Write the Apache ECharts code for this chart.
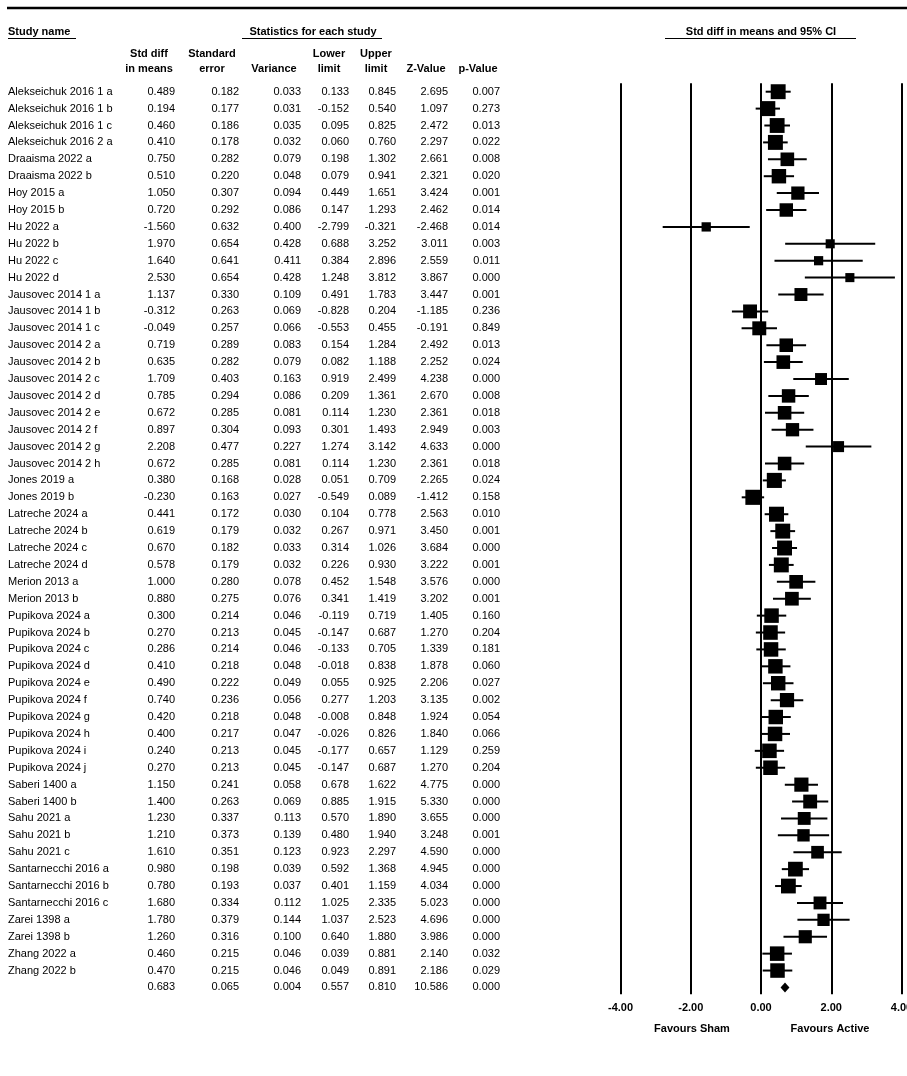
<!DOCTYPE html>
<html>
<head>
<meta charset="utf-8">
<script src="https://cdn.jsdelivr.net/npm/echarts@6/dist/echarts.min.js"></script>
<style>
html,body{margin:0;padding:0;background:#fff;}
#chart{width:907px;height:1076px;}
</style>
</head>
<body>
<div id="chart"></div>
<script>
const studies = [
  "Alekseichuk 2016 1 a","Alekseichuk 2016 1 b","Alekseichuk 2016 1 c","Alekseichuk 2016 2 a",
  "Draaisma 2022 a","Draaisma 2022 b","Hoy 2015 a","Hoy 2015 b",
  "Hu 2022 a","Hu 2022 b","Hu 2022 c","Hu 2022 d",
  "Jausovec 2014 1 a","Jausovec 2014 1 b","Jausovec 2014 1 c","Jausovec 2014 2 a",
  "Jausovec 2014 2 b","Jausovec 2014 2 c","Jausovec 2014 2 d","Jausovec 2014 2 e",
  "Jausovec 2014 2 f","Jausovec 2014 2 g","Jausovec 2014 2 h","Jones 2019 a","Jones 2019 b",
  "Latreche 2024 a","Latreche 2024 b","Latreche 2024 c","Latreche 2024 d",
  "Merion 2013 a","Merion 2013 b",
  "Pupikova 2024 a","Pupikova 2024 b","Pupikova 2024 c","Pupikova 2024 d","Pupikova 2024 e",
  "Pupikova 2024 f","Pupikova 2024 g","Pupikova 2024 h","Pupikova 2024 i","Pupikova 2024 j",
  "Saberi 1400 a","Saberi 1400 b","Sahu 2021 a","Sahu 2021 b","Sahu 2021 c",
  "Santarnecchi 2016 a","Santarnecchi 2016 b","Santarnecchi 2016 c",
  "Zarei 1398 a","Zarei 1398 b","Zhang 2022 a","Zhang 2022 b"
];
const stdDiff = [0.489,0.194,0.460,0.410,0.750,0.510,1.050,0.720,-1.560,1.970,1.640,2.530,
  1.137,-0.312,-0.049,0.719,0.635,1.709,0.785,0.672,0.897,2.208,0.672,0.380,-0.230,
  0.441,0.619,0.670,0.578,1.000,0.880,0.300,0.270,0.286,0.410,0.490,0.740,0.420,0.400,0.240,0.270,
  1.150,1.400,1.230,1.210,1.610,0.980,0.780,1.680,1.780,1.260,0.460,0.470];
const stdErr = [0.182,0.177,0.186,0.178,0.282,0.220,0.307,0.292,0.632,0.654,0.641,0.654,
  0.330,0.263,0.257,0.289,0.282,0.403,0.294,0.285,0.304,0.477,0.285,0.168,0.163,
  0.172,0.179,0.182,0.179,0.280,0.275,0.214,0.213,0.214,0.218,0.222,0.236,0.218,0.217,0.213,0.213,
  0.241,0.263,0.337,0.373,0.351,0.198,0.193,0.334,0.379,0.316,0.215,0.215];
const variance = [0.033,0.031,0.035,0.032,0.079,0.048,0.094,0.086,0.400,0.428,0.411,0.428,
  0.109,0.069,0.066,0.083,0.079,0.163,0.086,0.081,0.093,0.227,0.081,0.028,0.027,
  0.030,0.032,0.033,0.032,0.078,0.076,0.046,0.045,0.046,0.048,0.049,0.056,0.048,0.047,0.045,0.045,
  0.058,0.069,0.113,0.139,0.123,0.039,0.037,0.112,0.144,0.100,0.046,0.046];
const lowerLimit = [0.133,-0.152,0.095,0.060,0.198,0.079,0.449,0.147,-2.799,0.688,0.384,1.248,
  0.491,-0.828,-0.553,0.154,0.082,0.919,0.209,0.114,0.301,1.274,0.114,0.051,-0.549,
  0.104,0.267,0.314,0.226,0.452,0.341,-0.119,-0.147,-0.133,-0.018,0.055,0.277,-0.008,-0.026,-0.177,-0.147,
  0.678,0.885,0.570,0.480,0.923,0.592,0.401,1.025,1.037,0.640,0.039,0.049];
const upperLimit = [0.845,0.540,0.825,0.760,1.302,0.941,1.651,1.293,-0.321,3.252,2.896,3.812,
  1.783,0.204,0.455,1.284,1.188,2.499,1.361,1.230,1.493,3.142,1.230,0.709,0.089,
  0.778,0.971,1.026,0.930,1.548,1.419,0.719,0.687,0.705,0.838,0.925,1.203,0.848,0.826,0.657,0.687,
  1.622,1.915,1.890,1.940,2.297,1.368,1.159,2.335,2.523,1.880,0.881,0.891];
const zValue = [2.695,1.097,2.472,2.297,2.661,2.321,3.424,2.462,-2.468,3.011,2.559,3.867,
  3.447,-1.185,-0.191,2.492,2.252,4.238,2.670,2.361,2.949,4.633,2.361,2.265,-1.412,
  2.563,3.450,3.684,3.222,3.576,3.202,1.405,1.270,1.339,1.878,2.206,3.135,1.924,1.840,1.129,1.270,
  4.775,5.330,3.655,3.248,4.590,4.945,4.034,5.023,4.696,3.986,2.140,2.186];
const pValue = [0.007,0.273,0.013,0.022,0.008,0.020,0.001,0.014,0.014,0.003,0.011,0.000,
  0.001,0.236,0.849,0.013,0.024,0.000,0.008,0.018,0.003,0.000,0.018,0.024,0.158,
  0.010,0.001,0.000,0.001,0.000,0.001,0.160,0.204,0.181,0.060,0.027,0.002,0.054,0.066,0.259,0.204,
  0.000,0.000,0.000,0.001,0.000,0.000,0.000,0.000,0.000,0.000,0.032,0.029];
// summary row: std diff, std err, variance, lower, upper, Z, p
const summaryStats = [0.683,0.065,0.004,0.557,0.810,10.586,0.000];
const xTicks = [-4, -2, 0, 2, 4];

const FONT = '"Liberation Sans", Arial, sans-serif';

// table rows: [rowIndex, name, values...]
const tableRows = studies.map((s, i) => [i, s, stdDiff[i], stdErr[i], variance[i], lowerLimit[i], upperLimit[i], zValue[i], pValue[i]]);
tableRows.push([studies.length, ''].concat(summaryStats));

const studyData = studies.map((s, i) => [stdDiff[i], i, lowerLimit[i], upperLimit[i], variance[i]]);
const summaryData = [[summaryStats[0], studies.length, summaryStats[3], summaryStats[4]]];

const colRight = [175, 239, 301, 349, 396, 448, 500];

const chart = echarts.init(document.getElementById('chart'), null, {renderer: 'canvas'});

const yRange = {min: -0.5, max: 53.4};
const gridTop = 83.25, gridBottom = 81.8;

chart.setOption({
  backgroundColor: '#fff',
  animation: false,
  grid: [
    {left: 620.5, right: 5.5, top: gridTop, bottom: gridBottom, containLabel: false, outerBoundsMode: 'none'},
    {left: 0, right: 0, top: gridTop, bottom: gridBottom, containLabel: false, outerBoundsMode: 'none'}
  ],
  xAxis: [
    {gridIndex: 0, type: 'value', min: xTicks[0], max: xTicks[xTicks.length - 1], interval: 2,
     axisLine: {show: false}, axisTick: {show: false},
     splitLine: {show: true, lineStyle: {color: '#000', width: 2}},
     axisLabel: {show: true, margin: 8, color: '#000', fontWeight: 'bold', fontSize: 11, fontFamily: FONT,
       hideOverlap: false, formatter: v => v.toFixed(2)}},
    {gridIndex: 1, type: 'value', min: 0, max: 907, show: false}
  ],
  yAxis: [
    {gridIndex: 0, type: 'value', inverse: true, min: yRange.min, max: yRange.max, show: false},
    {gridIndex: 1, type: 'value', inverse: true, min: yRange.min, max: yRange.max, show: false}
  ],
  series: [
    {
      type: 'custom', xAxisIndex: 1, yAxisIndex: 1, clip: false, silent: true,
      data: tableRows,
      dimensions: ['row','name','a','b','c','d','e','f','g'],
      encode: {x: 0, y: 0},
      renderItem: function (params, api) {
        const r = tableRows[params.dataIndex];
        const y = api.coord([0, r[0]])[1];
        const children = [{
          type: 'text',
          style: {text: r[1], x: 8, y: y, align: 'left', verticalAlign: 'middle',
            font: '11px ' + FONT, fill: '#000'}
        }];
        for (let k = 0; k < 7; k++) {
          children.push({
            type: 'text',
            style: {text: r[2 + k].toFixed(3), x: colRight[k], y: y, align: 'right', verticalAlign: 'middle',
              font: '11px ' + FONT, fill: '#000'}
          });
        }
        return {type: 'group', children: children};
      }
    },
    {
      type: 'custom', xAxisIndex: 0, yAxisIndex: 0, clip: false, silent: true,
      data: studyData,
      encode: {x: 0, y: 1},
      renderItem: function (params, api) {
        const est = api.coord([api.value(0), api.value(1)]);
        const lo = api.coord([api.value(2), api.value(1)]);
        const hi = api.coord([api.value(3), api.value(1)]);
        const size = 7.2 / Math.sqrt(api.value(4) + 0.2);
        return {type: 'group', children: [
          {type: 'line', shape: {x1: lo[0], y1: lo[1], x2: hi[0], y2: hi[1]},
           style: {stroke: '#000', lineWidth: 2}},
          {type: 'rect', shape: {x: est[0] - size / 2, y: est[1] - size / 2, width: size, height: size},
           style: {fill: '#000'}}
        ]};
      }
    },
    {
      type: 'custom', xAxisIndex: 0, yAxisIndex: 0, clip: false, silent: true,
      data: summaryData,
      encode: {x: 0, y: 1},
      renderItem: function (params, api) {
        const est = api.coord([api.value(0), api.value(1)]);
        const lo = api.coord([api.value(2), api.value(1)]);
        const hi = api.coord([api.value(3), api.value(1)]);
        return {type: 'polygon',
          shape: {points: [[lo[0], est[1]], [est[0], est[1] - 5], [hi[0], est[1]], [est[0], est[1] + 5]]},
          style: {fill: '#000'}};
      }
    }
  ],
  graphic: [
    {type: 'line', shape: {x1: 7, y1: 8, x2: 907, y2: 8}, style: {stroke: '#000', lineWidth: 2.5}},
    {type: 'text', style: {text: 'Study name', x: 8, y: 32, align: 'left', verticalAlign: 'middle', font: 'bold 11px ' + FONT, fill: '#000'}},
    {type: 'line', shape: {x1: 8, y1: 38.5, x2: 76, y2: 38.5}, style: {stroke: '#000', lineWidth: 1.2}},
    {type: 'text', style: {text: 'Statistics for each study', x: 313, y: 32, align: 'center', verticalAlign: 'middle', font: 'bold 11px ' + FONT, fill: '#000'}},
    {type: 'line', shape: {x1: 242, y1: 38.5, x2: 382, y2: 38.5}, style: {stroke: '#000', lineWidth: 1.2}},
    {type: 'text', style: {text: 'Std diff in means and 95% CI', x: 761, y: 32, align: 'center', verticalAlign: 'middle', font: 'bold 11px ' + FONT, fill: '#000'}},
    {type: 'line', shape: {x1: 665, y1: 38.5, x2: 856, y2: 38.5}, style: {stroke: '#000', lineWidth: 1.2}},
    {type: 'text', style: {text: 'Std diff', x: 149, y: 54, align: 'center', verticalAlign: 'middle', font: 'bold 11px ' + FONT, fill: '#000'}},
    {type: 'text', style: {text: 'in means', x: 149, y: 69, align: 'center', verticalAlign: 'middle', font: 'bold 11px ' + FONT, fill: '#000'}},
    {type: 'text', style: {text: 'Standard', x: 212, y: 54, align: 'center', verticalAlign: 'middle', font: 'bold 11px ' + FONT, fill: '#000'}},
    {type: 'text', style: {text: 'error', x: 212, y: 69, align: 'center', verticalAlign: 'middle', font: 'bold 11px ' + FONT, fill: '#000'}},
    {type: 'text', style: {text: 'Variance', x: 274, y: 69, align: 'center', verticalAlign: 'middle', font: 'bold 11px ' + FONT, fill: '#000'}},
    {type: 'text', style: {text: 'Lower', x: 329, y: 54, align: 'center', verticalAlign: 'middle', font: 'bold 11px ' + FONT, fill: '#000'}},
    {type: 'text', style: {text: 'limit', x: 329, y: 69, align: 'center', verticalAlign: 'middle', font: 'bold 11px ' + FONT, fill: '#000'}},
    {type: 'text', style: {text: 'Upper', x: 376, y: 54, align: 'center', verticalAlign: 'middle', font: 'bold 11px ' + FONT, fill: '#000'}},
    {type: 'text', style: {text: 'limit', x: 376, y: 69, align: 'center', verticalAlign: 'middle', font: 'bold 11px ' + FONT, fill: '#000'}},
    {type: 'text', style: {text: 'Z-Value', x: 426, y: 69, align: 'center', verticalAlign: 'middle', font: 'bold 11px ' + FONT, fill: '#000'}},
    {type: 'text', style: {text: 'p-Value', x: 478, y: 69, align: 'center', verticalAlign: 'middle', font: 'bold 11px ' + FONT, fill: '#000'}},
    {type: 'text', style: {text: 'Favours Sham', x: 692, y: 1029, align: 'center', verticalAlign: 'middle', font: 'bold 11px ' + FONT, fill: '#000'}},
    {type: 'text', style: {text: 'Favours Active', x: 830, y: 1029, align: 'center', verticalAlign: 'middle', font: 'bold 11px ' + FONT, fill: '#000'}}
  ]
});
</script>
</body>
</html>
